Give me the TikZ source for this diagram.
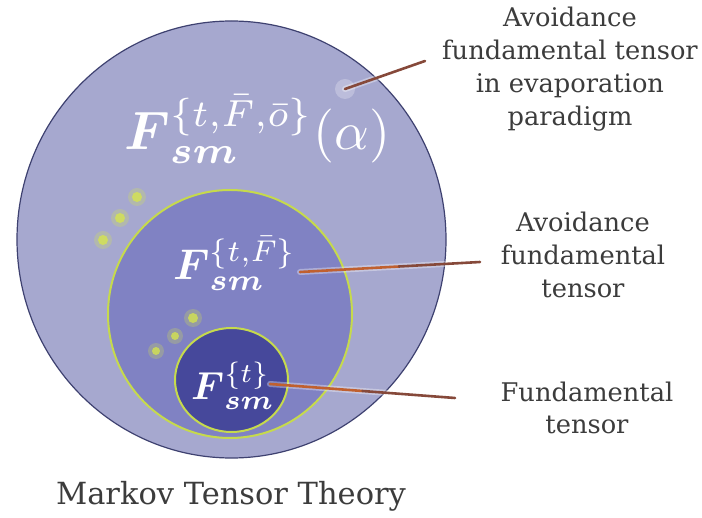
\documentclass[tikz,border=0pt]{standalone}
\usepackage{amsmath}
\usepackage{graphicx}
\usepackage{fontspec}
\setmainfont{DejaVu Serif}
\usetikzlibrary{shapes.geometric,calc}
\definecolor{outerfill}{HTML}{A6A8CF}
\definecolor{outerline}{HTML}{3E4170}
\definecolor{midfill}{HTML}{8082C3}
\definecolor{innerfill}{HTML}{46489B}
\definecolor{ringgreen}{HTML}{C6DA4C}
\definecolor{labeltext}{HTML}{3C3C3C}
\definecolor{linebrown}{HTML}{86493A}
\definecolor{lineorange}{HTML}{C0602F}
\definecolor{sparkle}{HTML}{D8E84A}
\tikzset{
  label/.style={align=center, text=labeltext, font=\fontsize{25.7}{32.8}\selectfont, inner sep=0pt},
  formula/.style={text=white, inner sep=0pt},
  ring/.style={draw=ringgreen, line width=2pt},
  shadowline/.style={line width=6pt, draw=white, opacity=0.35, line cap=round},
  pointer/.style={line width=2.6pt, line cap=round},
  spark/.style={fill=sparkle, opacity=0.75},
  sparkglow/.style={fill=sparkle, opacity=0.25}
}
\begin{document}
\begin{tikzpicture}[x=1pt,y=-1pt]
\useasboundingbox (0,0) rectangle (702,518);
% circles
\node[ellipse, draw=outerline, line width=1.2pt, fill=outerfill, minimum width=429pt, minimum height=437pt, inner sep=0pt] (outer) at (231.5,239.5) {};
\node[ellipse, ring, fill=midfill, minimum width=244pt, minimum height=248pt, inner sep=0pt] (mid) at (230,314) {};
\node[ellipse, ring, fill=innerfill, minimum width=113pt, minimum height=104pt, inner sep=0pt] (inner) at (231.5,380) {};
% sparkles
\foreach \px/\py/\r in {137/197/5, 120/218/5, 103/240/5, 193/318/5, 175/336/4, 156/351/4}{
  \fill[sparkglow] (\px,\py) circle (\r+4);
  \fill[spark] (\px,\py) circle (\r);
}
% formulas
\node[formula, anchor=base west] (fo) at (124,150) {\scalebox{5.4}{$\boldsymbol{F}_{\boldsymbol{sm}}^{\{t,\bar{F},\bar{o}\}}(\alpha)$}};
\node[formula, anchor=base west] (fm) at (173,280) {\scalebox{4.3}{$\boldsymbol{F}_{\boldsymbol{sm}}^{\{t,\bar{F}\}}$}};
\node[formula, anchor=base west] (fi) at (191,400) {\scalebox{3.9}{$\boldsymbol{F}_{\boldsymbol{sm}}^{\{t\}}$}};
% labels
\node[label] (l1) at (570,69) {Avoidance\\fundamental tensor\\in evaporation\\paradigm};
\node[label] (l2) at (583,255) {Avoidance\\fundamental\\tensor};
\node[label] (l3) at (587,408) {Fundamental\\tensor};
\node[font=\fontsize{30.5}{30.5}\selectfont, text=labeltext, inner sep=0pt, anchor=base] (title) at (231,505) {Markov Tensor Theory};
% pointer end points
\coordinate (s1) at (345,89);
\coordinate (e1) at (425,61);
\coordinate (s2) at (300,272);
\coordinate (e2) at (480,262);
\coordinate (s3) at (270,384);
\coordinate (e3) at (455,398);
% pointers
\draw[shadowline] (s1) -- (e1);
\fill[white, opacity=0.25] (s1) circle (10);
\draw[pointer, linebrown] (s1) -- (e1);
\draw[shadowline] (s2) -- (e2);
\draw[pointer, lineorange] (s2) -- ($(s2)!0.55!(e2)$) coordinate (m2);
\draw[pointer, linebrown] (m2) -- (e2);
\draw[shadowline] (s3) -- (e3);
\draw[pointer, lineorange] (s3) -- ($(s3)!0.5!(e3)$) coordinate (m3);
\draw[pointer, linebrown] (m3) -- (e3);
\end{tikzpicture}
\end{document}
